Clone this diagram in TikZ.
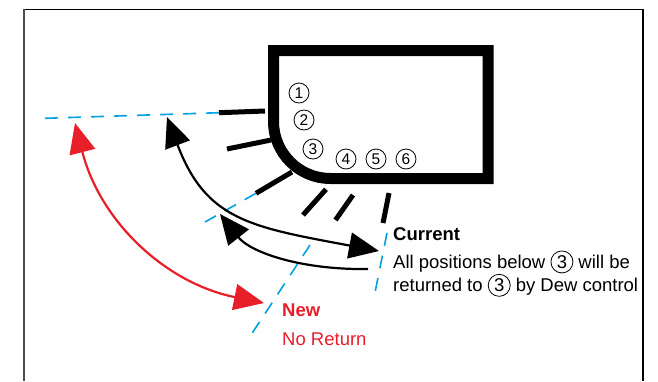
\documentclass[tikz,border=0pt]{standalone}
\usepackage{fontspec}
\setmainfont{Liberation Sans}
\usetikzlibrary{arrows.meta}
\definecolor{cyanline}{RGB}{0,160,226}
\definecolor{redarrow}{RGB}{232,30,40}
\newcommand\circnum[1]{\tikz[baseline=(cn.base)]\node[draw,circle,inner sep=0pt,minimum size=22pt,line width=0.8pt](cn){#1};}
\tikzset{
  bighead/.tip={Triangle[length=30pt,width=26pt]}
}
\begin{document}
\begin{tikzpicture}[x=1pt,y=-1pt,
  tickline/.style={line width=5pt},
  guide/.style={cyanline,line width=1.6pt,dash pattern=on 13pt off 10pt},
  num/.style={draw,circle,inner sep=0pt,minimum size=20pt,line width=0.8pt,font=\fontsize{15.5}{15.5}\selectfont},
  arr/.style={line width=2.2pt,bighead-bighead},
  arrone/.style={line width=2.2pt,bighead-},
  lbl/.style={anchor=base west,inner sep=0pt,font=\fontsize{18.5}{22}\selectfont},
  lblb/.style={anchor=base west,inner sep=0pt,font=\fontsize{18.5}{22}\selectfont\bfseries}]
\useasboundingbox (0,0) rectangle (658,381);
% frame
\draw[line width=1.3pt] (24,9.3) -- (643,9.3) -- (643,381);
\draw[black!70,line width=2pt] (24,381) -- (24,8.7);
% box
\draw[line width=11pt,line join=miter]
  (273.5,50.5) -- (488,50.5) -- (488,178.5) -- (330.5,178.5)
  .. controls (299,178.5) and (273.5,153) .. (273.5,121.5) -- cycle;
% numbers
\node[num] (n1) at (299,93) {1};
\node[num] (n2) at (304,120) {2};
\node[num] (n3) at (313,149) {3};
\node[num] (n4) at (346,159) {4};
\node[num] (n5) at (376,159) {5};
\node[num] (n6) at (406,159) {6};
% ticks
\coordinate (t1a) at (219,112.7); \coordinate (t1b) at (265,111);
\coordinate (t2a) at (227,149);   \coordinate (t2b) at (271,140);
\coordinate (t3a) at (256,193.3); \coordinate (t3b) at (292,172);
\coordinate (t4a) at (303,215);   \coordinate (t4b) at (326,189.3);
\coordinate (t5a) at (335.5,220); \coordinate (t5b) at (353,195);
\coordinate (t6a) at (383,223);   \coordinate (t6b) at (389,193);
\foreach \i in {1,...,6} \draw[tickline] (t\i a) -- (t\i b);
% guides
\coordinate (g1) at (45,118.3);
\coordinate (g2) at (205,222);
\coordinate (g3a) at (310,245); \coordinate (g3b) at (247,341);
\coordinate (g4a) at (387,233); \coordinate (g4b) at (373.5,300);
\draw[guide] (t1a) -- (g1);
\draw[guide] (t3a) -- (g2);
\draw[guide] (g3a) -- (g3b);
\draw[guide] (g4a) -- (g4b);
% arrows
\coordinate (a1s) at (379,251); \coordinate (a1e) at (167,117);
\draw[arr] (a1e) .. controls (206,220) and (250,227) .. (a1s);
\coordinate (a2s) at (368,269); \coordinate (a2e) at (220,214);
\draw[arrone] (a2e) .. controls (250,252) and (300,270) .. (a2s);
\coordinate (a3s) at (75,123); \coordinate (a3e) at (264,303);
\draw[arr,redarrow] (a3s) .. controls (100,221) and (165,283) .. (a3e);
% labels
\node[lblb] (cur) at (393,240) {Current};
\node[lbl] (l1) at (393,268.3) {All positions below \circnum{3} will be};
\node[lbl] (l2) at (393,291.7) {returned to \circnum{3} by Dew control};
\node[lblb,text=redarrow] (new) at (282,316.7) {New};
\node[lbl,text=redarrow] (noret) at (282,345) {No Return};
\end{tikzpicture}
\end{document}
